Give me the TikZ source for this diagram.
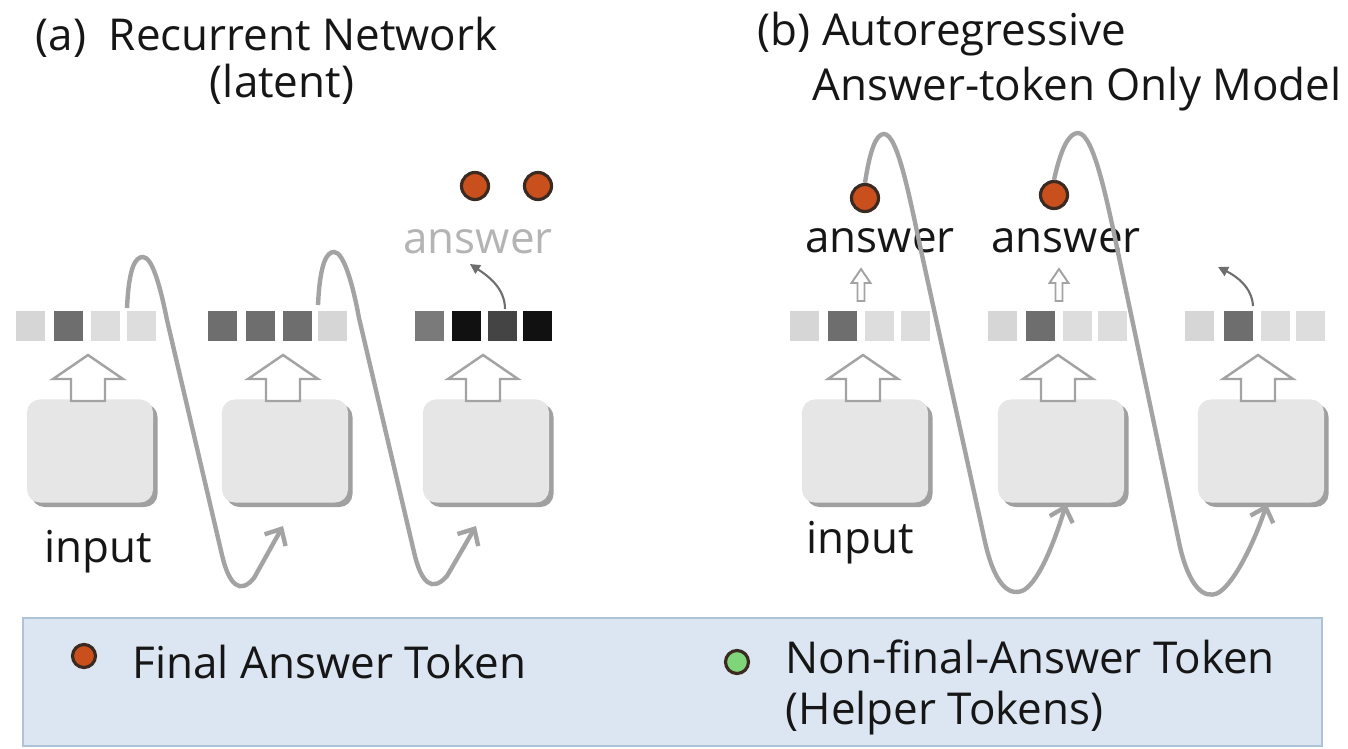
\documentclass[tikz,border=0pt]{standalone}
\usepackage{fontspec}
\setmainfont{Open Sans}
\usetikzlibrary{arrows.meta,shadows}
\definecolor{curvegray}{HTML}{A3A3A3}
\definecolor{boxfill}{HTML}{E6E6E6}
\definecolor{boxshadow}{HTML}{A0A0A0}
\definecolor{sqlight}{HTML}{D6D6D6}
\definecolor{sqlighter}{HTML}{DDDDDD}
\definecolor{sqmid}{HTML}{7A7A7A}
\definecolor{sqdark}{HTML}{6E6E6E}
\definecolor{sqdeep}{HTML}{444444}
\definecolor{sqblack}{HTML}{111111}
\definecolor{dotorange}{HTML}{C9501C}
\definecolor{dotgreen}{HTML}{7FD67A}
\definecolor{dotline}{HTML}{3A2A22}
\definecolor{legfill}{HTML}{DCE6F2}
\definecolor{legline}{HTML}{AFC3D8}
\definecolor{textdark}{HTML}{161616}
\definecolor{textgray}{HTML}{B4B4B4}
\newcommand{\sq}[2]{\fill[#2] (#1,311) rectangle +(29,30);}
\begin{document}
\begin{tikzpicture}[x=0.01cm,y=-0.01cm,
  modelbox/.style={draw=none,fill=boxfill,rounded corners=0.13cm,minimum width=1.26cm,minimum height=1.03cm,inner sep=0pt,
    drop shadow={shadow xshift=0.045cm,shadow yshift=-0.045cm,fill=boxshadow,opacity=1}},
  loopline/.style={draw=curvegray,line width=1.25pt,-{Straight Barb[length=0.13cm,width=0.24cm,line width=1.25pt]}},
  blockarrow/.style={draw=curvegray,line width=0.7pt,fill=white,line join=miter},
  tinyarrow/.style={draw=curvegray,line width=0.55pt,fill=white},
  twirl/.style={draw=sqdark,line width=0.6pt,-{Triangle[length=0.1cm,width=0.1cm]}},
  tok/.style={circle,draw=dotline,line width=0.9pt,fill=dotorange,minimum size=0.27cm,inner sep=0pt},
  legtok/.style={circle,draw=dotline,line width=0.9pt,minimum size=0.23cm,inner sep=0pt},
  lbl/.style={inner sep=0pt,font=\fontsize{12.5pt}{15pt}\selectfont,text=textdark},
  ttl/.style={inner sep=0pt,font=\fontsize{12.5pt}{15pt}\selectfont,text=textdark}]
\useasboundingbox (0,0) rectangle (1348,748);

% ---------- titles ----------
\node[ttl,anchor=base west] (ta) at (35,50) {(a)\ \ Recurrent Network};
\node[ttl,anchor=base] (tal) at (282,97) {(latent)};
\node[ttl,anchor=base west] (tb) at (757,45) {(b) Autoregressive};
\node[ttl,anchor=base west] (tbl) at (812,100) {Answer-token Only Model};

% ---------- boxes ----------
\node[modelbox] (a1) at (90,451) {};
\node[modelbox] (a2) at (285,451) {};
\node[modelbox] (a3) at (486,451) {};
\node[modelbox] (b1) at (865,451) {};
\node[modelbox] (b2) at (1061,451) {};
\node[modelbox] (b3) at (1261,451) {};

% ---------- block arrows ----------
\foreach \cx in {88,283,483,863,1058,1258}{
  \draw[blockarrow] ({\cx-17},401) -- ({\cx-17},379) -- ({\cx-35},379) -- (\cx,355) -- ({\cx+35},379) -- ({\cx+17},379) -- ({\cx+17},401) -- cycle;
}

% ---------- vectors ----------
\sq{16}{sqlight}\sq{54}{sqdark}\sq{91}{sqlighter}\sq{127}{sqlighter}
\sq{208}{sqdark}\sq{246}{sqdark}\sq{283}{sqdark}\sq{318}{sqlight}
\sq{415}{sqmid}\sq{452}{sqblack}\sq{488}{sqdeep}\sq{523}{sqblack}
\sq{790}{sqlight}\sq{828}{sqdark}\sq{865}{sqlighter}\sq{901}{sqlighter}
\sq{988}{sqlight}\sq{1026}{sqdark}\sq{1063}{sqlighter}\sq{1098}{sqlighter}
\sq{1185}{sqlight}\sq{1224}{sqdark}\sq{1261}{sqlighter}\sq{1296}{sqlighter}

% ---------- small up arrows (b) ----------
\foreach \cx in {861,1059}{
  \draw[tinyarrow] ({\cx-3.5},301) -- ({\cx-3.5},283) -- ({\cx-9.5},283) -- (\cx,269) -- ({\cx+9.5},283) -- ({\cx+3.5},283) -- ({\cx+3.5},301) -- cycle;
}

% ---------- labels ----------
\node[lbl,anchor=base] (ina) at (98,562) {input};
\node[lbl,anchor=base] (inb) at (860,553) {input};
\node[lbl,anchor=base,text=textgray] (ansa) at (478,253) {answer};
\node[lbl,anchor=base] (ansb1) at (880,252) {answer};
\node[lbl,anchor=base] (ansb2) at (1066,252) {answer};

% ---------- twirl arrows ----------
\coordinate (twa) at (470,264);
\coordinate (twb) at (1218,267);
\draw[twirl] (505,309) .. controls (505,288) and (488,276) .. (twa);
\draw[twirl] (1253,306) .. controls (1252,287) and (1236,276) .. (twb);

% ---------- tokens ----------
\node[tok] (ta1) at (475,186) {};
\node[tok] (ta2) at (538,186) {};
\node[tok] (tb1) at (865,198) {};
\node[tok] (tb2) at (1054,195) {};

% ---------- recurrent loops (a) ----------
\coordinate (la1s) at (127,308);
\coordinate (la1e) at (283,526);
\coordinate (la2s) at (318,305);
\coordinate (la2e) at (476,526);
\draw[loopline] (la1s) .. controls (129,265) and (136,257) .. (143,257)
  .. controls (152,257) and (160,285) .. (167,320) -- (222,555)
  .. controls (229,585) and (240,595) .. (254,578) -- (la1e);
\draw[loopline] (la2s) .. controls (320,262) and (327,252) .. (334,252)
  .. controls (343,252) and (352,280) .. (359,318) -- (414,552)
  .. controls (421,583) and (432,593) .. (447,576) -- (la2e);

% ---------- autoregressive loops (b) ----------
\coordinate (lb1e) at (1066,504);
\coordinate (lb2e) at (1267,504);
\draw[loopline] (tb1.north) .. controls (870,150) and (876,134) .. (884,134)
  .. controls (898,134) and (910,200) .. (922,255) -- (985,542)
  .. controls (994,582) and (1008,598) .. (1024,590)
  .. controls (1040,580) and (1055,540) .. (lb1e);
\draw[loopline] (tb2.north) .. controls (1061,148) and (1069,133) .. (1078,133)
  .. controls (1094,133) and (1108,205) .. (1120,262) -- (1180,547)
  .. controls (1189,585) and (1203,600) .. (1218,593)
  .. controls (1235,583) and (1255,540) .. (lb2e);

% ---------- legend ----------
\node[draw=legline,fill=legfill,line width=0.6pt,minimum width=12.98cm,minimum height=1.28cm,inner sep=0pt,anchor=north west] (legend) at (22,617) {};
\node[legtok,fill=dotorange] (lg1) at (84,656) {};
\node[legtok,fill=dotgreen] (lg2) at (737,662) {};
\node[lbl,anchor=base west] (lt1) at (132,678) {Final Answer Token};
\node[lbl,anchor=base west] (lt2) at (785,673) {Non-final-Answer Token};
\node[lbl,anchor=base west] (lt3) at (785,724) {(Helper Tokens)};
\end{tikzpicture}
\end{document}
